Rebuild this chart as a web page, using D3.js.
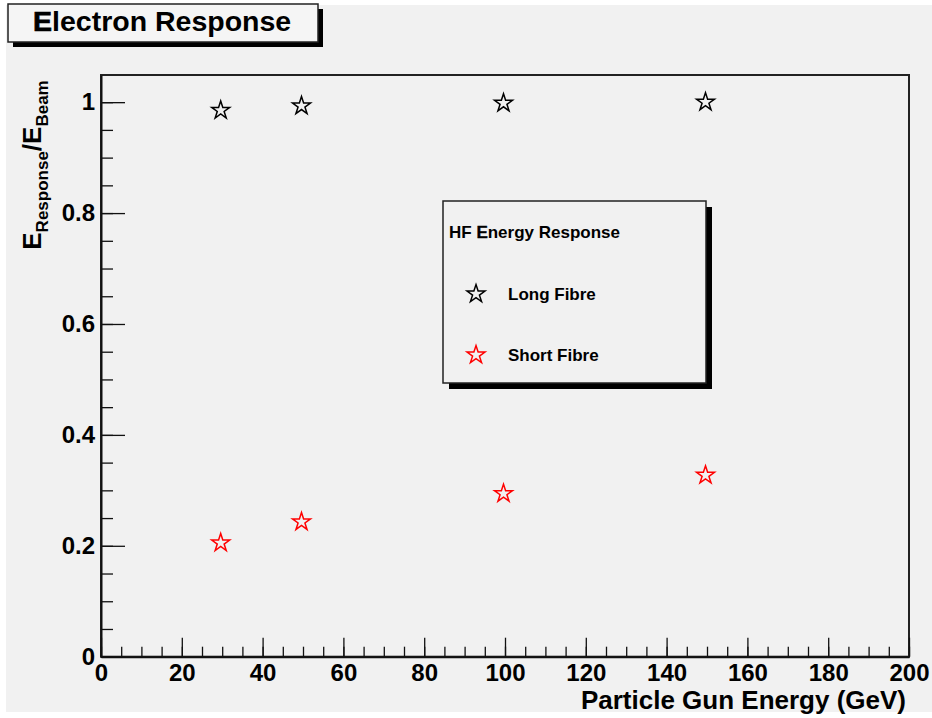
<!DOCTYPE html>
<html lang="en">
<head>
<meta charset="UTF-8">
<title>Electron Response</title>
<script src="https://cdn.jsdelivr.net/npm/d3@7"></script>
<style>
  body { margin: 0; background: #ffffff; }
  text { font-family: "Liberation Sans", Arial, Helvetica, sans-serif; font-weight: bold; fill: #000; }
</style>
</head>
<body>
<div id="container"></div>
<script>
// data
let energies = [30, 50, 100, 150];
let longFibre = [0.987, 0.995, 1.0, 1.002];
let shortFibre = [0.207, 0.245, 0.296, 0.329];
let seriesNames = ["Long Fibre", "Short Fibre"];
let seriesColors = ["#000000", "#ff0000"];
let xTicks = d3.range(0, 201, 20);
let xMinor = d3.range(0, 201, 5);
let yTicks = [0, 0.2, 0.4, 0.6, 0.8, 1];
let yMinor = d3.range(0, 21).map(i => i * 0.05);

let W = 932, H = 718;
let padL = 101, padR = 909, padT = 75, padB = 656.7;

let svg = d3.select('#container')
    .append('svg')
    .attr('width', W)
    .attr('height', H);

// canvas
svg.append('rect')
    .attr('x', 6).attr('y', 5)
    .attr('width', W - 6).attr('height', H - 11)
    .attr('fill', '#f1f1f1');

let x = d3.scaleLinear().domain([0, 200]).range([padL, padR]);
let y = d3.scaleLinear().domain([0, 1.049]).range([padB, padT]);

// frame
svg.append('rect')
    .attr('x', padL).attr('y', padT)
    .attr('width', padR - padL).attr('height', padB - padT)
    .attr('fill', 'none')
    .attr('stroke', '#222')
    .attr('stroke-width', 2);

// x axis: minor then major
svg.append('g')
    .attr('transform', 'translate(0,' + padB + ')')
    .call(d3.axisBottom(x).tickValues(xMinor).tickSize(-10).tickSizeOuter(0).tickFormat(''))
    .call(g => g.select('.domain').remove())
    .selectAll('line').attr('stroke', '#111').attr('stroke-width', 1.3);

let gx = svg.append('g')
    .attr('transform', 'translate(0,' + padB + ')')
    .call(d3.axisBottom(x).tickValues(xTicks).tickSize(-19).tickSizeOuter(0).tickPadding(7).tickFormat(d3.format('d')));
gx.select('.domain').attr('stroke', '#111').attr('stroke-width', 2);
gx.selectAll('line').attr('stroke', '#111').attr('stroke-width', 1.3);
gx.selectAll('text').style('font-size', '24px').attr('fill', '#000');

// y axis
svg.append('g')
    .attr('transform', 'translate(' + padL + ',0)')
    .call(d3.axisLeft(y).tickValues(yMinor).tickSize(-12).tickSizeOuter(0).tickFormat(''))
    .call(g => g.select('.domain').remove())
    .selectAll('line').attr('stroke', '#111').attr('stroke-width', 1.3);

let gy = svg.append('g')
    .attr('transform', 'translate(' + padL + ',0)')
    .call(d3.axisLeft(y).tickValues(yTicks).tickSize(-24).tickSizeOuter(0).tickPadding(6)
        .tickFormat(d => String(+d.toFixed(1))));
gy.select('.domain').attr('stroke', '#111').attr('stroke-width', 2);
gy.selectAll('line').attr('stroke', '#111').attr('stroke-width', 1.3);
gy.selectAll('text').style('font-size', '24px').attr('fill', '#000');

// axis titles
svg.append('text')
    .attr('x', 906).attr('y', 709)
    .attr('text-anchor', 'end')
    .style('font-size', '26px')
    .text('Particle Gun Energy (GeV)');

let yl = svg.append('text')
    .attr('transform', 'translate(41,165) rotate(-90)')
    .attr('text-anchor', 'middle')
    .style('font-size', '26px');
yl.append('tspan').text('E');
yl.append('tspan').attr('dy', 7).style('font-size', '17px').text('Response');
yl.append('tspan').attr('dy', -7).text('/E');
yl.append('tspan').attr('dy', 7).style('font-size', '17px').text('Beam');

// markers
let star = d3.symbol(d3.symbolStar).size(100);
let series = [longFibre, shortFibre];
series.forEach((vals, i) => {
    svg.append('g').selectAll('path')
        .data(energies.map((e, j) => ({ e: e, v: vals[j] })))
        .join('path')
        .attr('transform', d => 'translate(' + (x(d.e) - 1.5) + ',' + (y(d.v) + 1) + ')')
        .attr('d', star)
        .attr('fill', 'none')
        .attr('stroke', seriesColors[i])
        .attr('stroke-width', 1.5);
});

// title box
svg.append('rect').attr('x', 13).attr('y', 9).attr('width', 310).attr('height', 38).attr('fill', '#000');
svg.append('rect').attr('x', 8).attr('y', 4).attr('width', 310).attr('height', 38)
    .attr('fill', '#f5f5f5').attr('stroke', '#222').attr('stroke-width', 1.5);
let tt = svg.append('text').attr('x', 33).attr('y', 31).style('font-size', '28.5px');
tt.append('tspan').attr('stroke', '#000').attr('stroke-width', 0.7).text('E');
tt.append('tspan').text('lectron Response');

// legend
let lg = svg.append('g');
lg.append('rect').attr('x', 449).attr('y', 207).attr('width', 263).attr('height', 182).attr('fill', '#000');
lg.append('rect').attr('x', 443).attr('y', 201).attr('width', 263).attr('height', 182)
    .attr('fill', '#f1f1f1').attr('stroke', '#222').attr('stroke-width', 1.5);
let lt = lg.append('text').attr('x', 449).attr('y', 238).style('font-size', '17px');
lt.append('tspan').text('HF ');
lt.append('tspan').attr('stroke', '#000').attr('stroke-width', 0.4).text('E');
lt.append('tspan').text('nergy Response');

seriesNames.forEach((name, i) => {
    let yy = 293 + i * 61;
    lg.append('path')
        .attr('transform', 'translate(476,' + (yy + 1) + ')')
        .attr('d', star)
        .attr('fill', 'none')
        .attr('stroke', seriesColors[i])
        .attr('stroke-width', 1.5);
    lg.append('text').attr('x', 508).attr('y', yy + 7).style('font-size', '17px').text(name);
});
</script>
</body>
</html>
